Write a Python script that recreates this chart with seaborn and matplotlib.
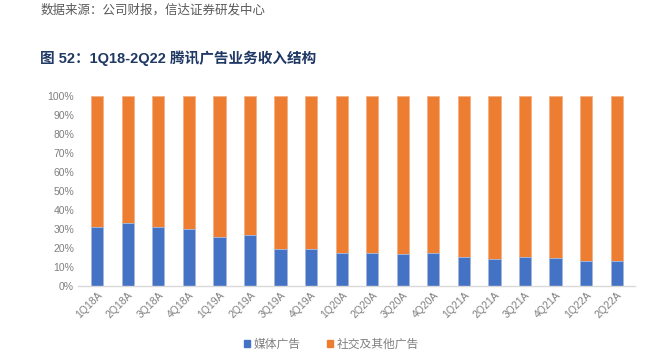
import matplotlib
matplotlib.use('Agg')
import matplotlib.pyplot as plt
import seaborn as sns
import pandas as pd

# 季度 & 媒体广告占比 (%)
quarters = ['1Q18A', '2Q18A', '3Q18A', '4Q18A', '1Q19A', '2Q19A', '3Q19A', '4Q19A',
            '1Q20A', '2Q20A', '3Q20A', '4Q20A', '1Q21A', '2Q21A', '3Q21A', '4Q21A',
            '1Q22A', '2Q22A']
media_share = [30.8, 33.4, 31.2, 30.2, 26.0, 26.7, 19.7, 19.4,
               17.6, 17.5, 16.7, 17.3, 15.1, 14.4, 15.4, 14.8,
               12.9, 13.2]
social_share = [100 - v for v in media_share]

series_names = ['媒体广告', '社交及其他广告']
colors = ['#4472C4', '#ED7D31']
y_ticks = [0, 10, 20, 30, 40, 50, 60, 70, 80, 90, 100]

df = pd.DataFrame({'季度': quarters, '媒体广告': media_share, '社交及其他广告': social_share})
df['合计'] = df['媒体广告'] + df['社交及其他广告']

sns.set_style('white')
plt.rcParams['font.family'] = ['Liberation Sans', 'Noto Sans CJK SC', 'DejaVu Sans']
grey = '#7F7F7F'

fig = plt.figure(figsize=(6.52, 3.52), dpi=100)
ax = fig.add_axes([0.12, 0.1875, 0.854, 0.54])

# 堆叠: 先画合计(橙色), 再画媒体广告(蓝色)
sns.barplot(data=df, x='季度', y='合计', color=colors[1], width=0.4,
            edgecolor='#F4B183', linewidth=0.6, saturation=1, ax=ax)
sns.barplot(data=df, x='季度', y='媒体广告', color=colors[0], width=0.4,
            edgecolor='#A9BEE6', linewidth=0.6, saturation=1, ax=ax)

ax.set_xlim(-0.62, len(quarters) - 0.4)
ax.set_ylim(0, 100)
ax.set_yticks(y_ticks)
ax.set_yticklabels([f'{t}%' for t in y_ticks], color=grey, fontsize=7.5)
ax.set_xticks(range(len(quarters)))
ax.set_xticklabels(quarters, rotation=45, ha='right', rotation_mode='anchor',
                   color=grey, fontsize=7.5)
ax.tick_params(axis='both', length=0, pad=3)
ax.set_xlabel('')
ax.set_ylabel('')
for s in ['top', 'right', 'left']:
    ax.spines[s].set_visible(False)
ax.spines['bottom'].set_color('#D9D9D9')
ax.spines['bottom'].set_linewidth(1)

# 图例
handles = [plt.Rectangle((0, 0), 1, 1, color=c) for c in colors]
leg = fig.legend(handles, series_names, loc='center', bbox_to_anchor=(0.508, 0.02),
                 ncol=2, frameon=False, fontsize=8.5, handlelength=0.55, handleheight=0.55,
                 handletextpad=0.3, columnspacing=2.2)
for t in leg.get_texts():
    t.set_color(grey)

# 标题与来源
fig.text(0.062, 0.972, '数据来源：公司财报，信达证券研发中心', fontsize=9, color='#595959',
         style='italic', va='center')
fig.text(0.062, 0.835, '图 52：1Q18-2Q22 腾讯广告业务收入结构', fontsize=10.5,
         fontweight='bold', color='#1F3864', va='center')

fig.savefig('out.png', dpi=100)
